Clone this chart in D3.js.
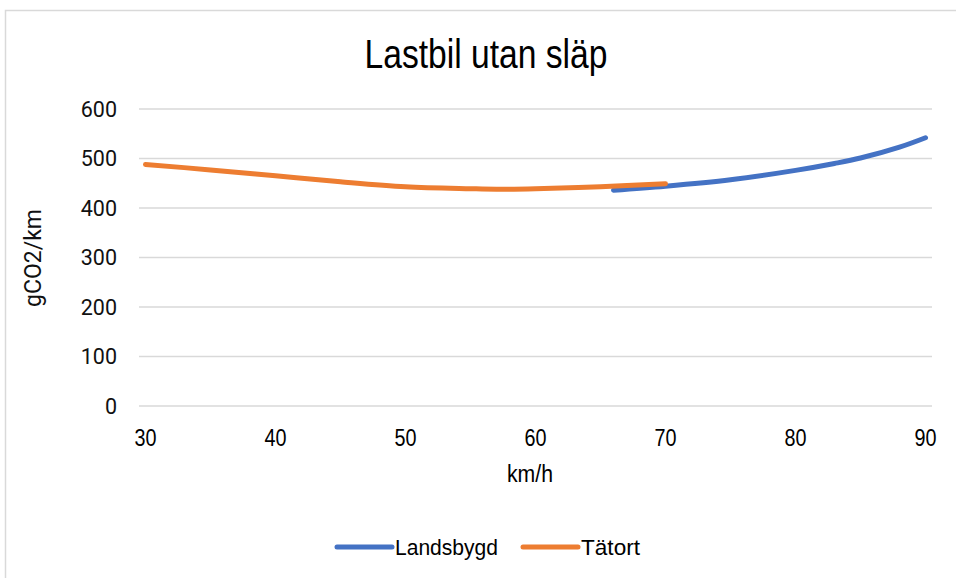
<!DOCTYPE html>
<html>
<head>
<meta charset="utf-8">
<script src="https://cdn.jsdelivr.net/npm/d3@7"></script>
<style>
  body { margin: 0; background: #fff; }
  svg { display: block; }
  .narrow { font-family: "Liberation Sans", Arial, sans-serif; fill: #000; }
  .ylab { font-family: Roboto, "Open Sans", sans-serif; fill: #111; }
  .grid line { stroke: #d9d9d9; stroke-width: 1.3; }
</style>
</head>
<body>
<div id="chart"></div>
<script>
// categories on the x axis (km/h)
const speeds = d3.range(30, 91)
const xTickLabels = [30, 40, 50, 60, 70, 80, 90]
const yTickLabels = [0, 100, 200, 300, 400, 500, 600]

// gCO2/km
const tatortSpeed = [30, 35, 40, 45, 50, 55, 57, 60, 65, 70]
const tatortValues = [488, 477, 465, 453, 443, 439, 438, 439, 443, 449]
const landsbygdSpeed = [66, 70, 75, 80, 83, 85, 88, 90]
const landsbygdValues = [436, 444, 457, 476, 490, 501, 523, 542]

const series = [
  { name: 'Landsbygd', color: '#4472c4', speed: landsbygdSpeed, values: landsbygdValues },
  { name: 'Tätort', color: '#ed7d31', speed: tatortSpeed, values: tatortValues },
]

const width = 956
const height = 578
const plot = { left: 139, right: 932, top: 109, bottom: 406 }

const svg = d3.select('#chart').append('svg')
  .attr('width', width)
  .attr('height', height)

// chart frame
svg.append('rect')
  .attr('x', 5.5).attr('y', 10.5)
  .attr('width', 960).attr('height', 580)
  .attr('fill', 'none')
  .attr('stroke', '#d9d9d9')
  .attr('stroke-width', 1.5)

const x = d3.scalePoint()
  .domain(speeds)
  .range([plot.left, plot.right])
  .padding(0.5)

const y = d3.scaleLinear()
  .domain([0, 600])
  .range([plot.bottom, plot.top])

svg.append('g')
  .attr('class', 'grid')
  .selectAll('line')
  .data(yTickLabels)
  .join('line')
  .attr('x1', plot.left).attr('x2', plot.right)
  .attr('y1', d => y(d)).attr('y2', d => y(d))

svg.append('g')
  .selectAll('text')
  .data(yTickLabels)
  .join('text')
  .attr('class', 'ylab')
  .attr('x', 117)
  .attr('y', d => y(d))
  .attr('dy', '0.36em')
  .attr('text-anchor', 'end')
  .style('font-size', '21.5px')
  .text(d => d)

svg.append('g')
  .selectAll('text')
  .data(xTickLabels)
  .join('text')
  .attr('class', 'narrow')
  .attr('x', d => x(d))
  .attr('y', 446)
  .attr('text-anchor', 'middle')
  .attr('textLength', 22)
  .attr('lengthAdjust', 'spacingAndGlyphs')
  .style('font-size', '23px')
  .text(d => d)

svg.append('text')
  .attr('class', 'narrow')
  .attr('x', 530)
  .attr('y', 482)
  .attr('text-anchor', 'middle')
  .attr('textLength', 46)
  .attr('lengthAdjust', 'spacingAndGlyphs')
  .style('font-size', '23px')
  .text('km/h')

svg.append('text')
  .attr('class', 'ylab')
  .attr('transform', 'translate(41, 258) rotate(-90)')
  .attr('text-anchor', 'middle')
  .style('font-size', '23px')
  .text('gCO2/km')

svg.append('text')
  .attr('class', 'narrow')
  .attr('x', 486)
  .attr('y', 68)
  .attr('text-anchor', 'middle')
  .attr('textLength', 243)
  .attr('lengthAdjust', 'spacingAndGlyphs')
  .style('font-size', '40px')
  .text('Lastbil utan släp')

const line = d3.line()
  .x(d => x(d[0]))
  .y(d => y(d[1]))
  .curve(d3.curveCatmullRom.alpha(0.5))

svg.append('g')
  .selectAll('path')
  .data(series)
  .join('path')
  .attr('d', s => line(d3.zip(s.speed, s.values)))
  .attr('fill', 'none')
  .attr('stroke', s => s.color)
  .attr('stroke-width', 5)
  .attr('stroke-linecap', 'round')

// legend
const legendX = [337, 523]
const legendTextLen = [103, 59]
const legend = svg.append('g')
  .selectAll('g')
  .data(series)
  .join('g')
  .attr('transform', (s, i) => `translate(${legendX[i]}, 547)`)

legend.append('line')
  .attr('x1', 0).attr('x2', 55)
  .attr('stroke', s => s.color)
  .attr('stroke-width', 5)
  .attr('stroke-linecap', 'round')

legend.append('text')
  .attr('class', 'narrow')
  .attr('x', 58)
  .attr('y', 8)
  .attr('textLength', (s, i) => legendTextLen[i])
  .attr('lengthAdjust', 'spacingAndGlyphs')
  .style('font-size', '22px')
  .text(s => s.name)
</script>
</body>
</html>
